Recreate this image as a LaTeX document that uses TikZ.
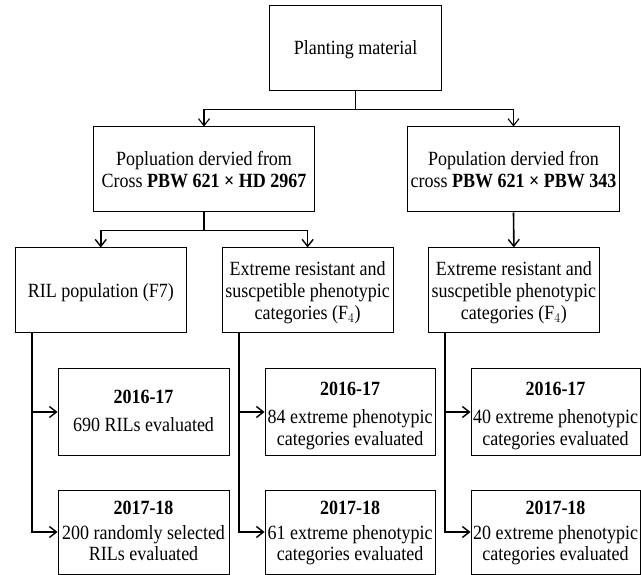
\documentclass[tikz,border=0pt]{standalone}
\usepackage{graphicx}
\usepackage{fontspec}
\setmainfont{Liberation Serif}
\usetikzlibrary{arrows.meta,calc}
\newcommand{\vtext}[2][3pt]{\raisebox{-#1}[\height][\depth]{\scalebox{1}[1.12]{\begin{tabular}{@{}c@{}}#2\end{tabular}}}}
\begin{document}
\begin{tikzpicture}[x=1pt,y=-1pt,
  box/.style={draw,line width=1pt,inner sep=0pt,align=center,
    font=\fontsize{18}{19.6}\selectfont},
  conn/.style={line width=1.1pt,-{Straight Barb[length=7pt,width=11pt,line width=1.1pt]}},
  thick conn/.style={line width=1.6pt,-{Straight Barb[length=7pt,width=11pt,line width=1.4pt]}}]
\useasboundingbox (0,0) rectangle (641,575);
% top
\node[box,minimum width=171.5pt,minimum height=85pt] (top) at (355.7,48.5) {\vtext[2pt]{Planting material}};
% second row
\node[box,minimum width=221.6pt,minimum height=85pt] (midL) at (204,169.5)
  {\vtext{Popluation dervied from\\Cross \textbf{PBW 621 × HD 2967}}};
\node[box,minimum width=211.8pt,minimum height=85pt] (midR) at (513.5,169.5)
  {\vtext{Population dervied fron\\cross \textbf{PBW 621 × PBW 343}}};
% third row
\node[box,minimum width=170.5pt,minimum height=85pt] (ril) at (100.75,290.5) {\vtext{RIL population (F7)}};
\node[box,minimum width=171.3pt,minimum height=85pt] (extA) at (307.65,290.5)
  {\vtext{Extreme resistant and\\suscpetible phenotypic\\categories (F$_4$)}};
\node[box,minimum width=171.8pt,minimum height=85pt] (extB) at (513.9,290.5)
  {\vtext{Extreme resistant and\\suscpetible phenotypic\\categories (F$_4$)}};
% fourth row
\node[box,minimum width=171pt,minimum height=86pt] (ra) at (143.5,412)
  {\vtext[1pt]{\textbf{2016-17}\\[5pt]690 RILs evaluated}};
\node[box,minimum width=170.4pt,minimum height=86pt] (rb) at (350.2,412)
  {\vtext[4pt]{\textbf{2016-17}\\[5pt]84 extreme phenotypic\\categories evaluated}};
\node[box,minimum width=169pt,minimum height=86pt] (rc) at (555.5,412)
  {\vtext[4pt]{\textbf{2016-17}\\[5pt]40 extreme phenotypic\\categories evaluated}};
% fifth row
\node[box,minimum width=171pt,minimum height=84pt] (sa) at (143.5,532)
  {\vtext[1.5pt]{\textbf{2017-18}\\[2pt]200 randomly selected\\RILs evaluated}};
\node[box,minimum width=170.4pt,minimum height=84pt] (sb) at (350.2,532)
  {\vtext[1.5pt]{\textbf{2017-18}\\[2pt]61 extreme phenotypic\\categories evaluated}};
\node[box,minimum width=169pt,minimum height=84pt] (sc) at (555.5,532)
  {\vtext[1.5pt]{\textbf{2017-18}\\[2pt]20 extreme phenotypic\\categories evaluated}};
% connectors top
\draw[conn] (top.south) -- ++(0,18) -| (midL.north);
\draw[conn] (top.south) -- ++(0,18) -| (midR.north);
% connectors from second row
\draw[thick conn] (midL.south) -- ++(0,18) -| (ril.north);
\draw[thick conn] (midL.south) -- ++(0,18) -| (extA.north);
\draw[thick conn] (midR.south) -- (extB.north);
% vertical feeders
\coordinate (va) at ($(ril.south west)+(17.2,0)$);
\coordinate (vb) at ($(extA.south west)+(17.2,0)$);
\coordinate (vc) at ($(extB.south west)+(17.6,0)$);
\draw[thick conn] (va) |- (ra.west);
\draw[thick conn] (va) |- (sa.west);
\draw[thick conn] (vb) |- (rb.west);
\draw[thick conn] (vb) |- (sb.west);
\draw[thick conn] (vc) |- (rc.west);
\draw[thick conn] (vc) |- (sc.west);
\end{tikzpicture}
\end{document}
